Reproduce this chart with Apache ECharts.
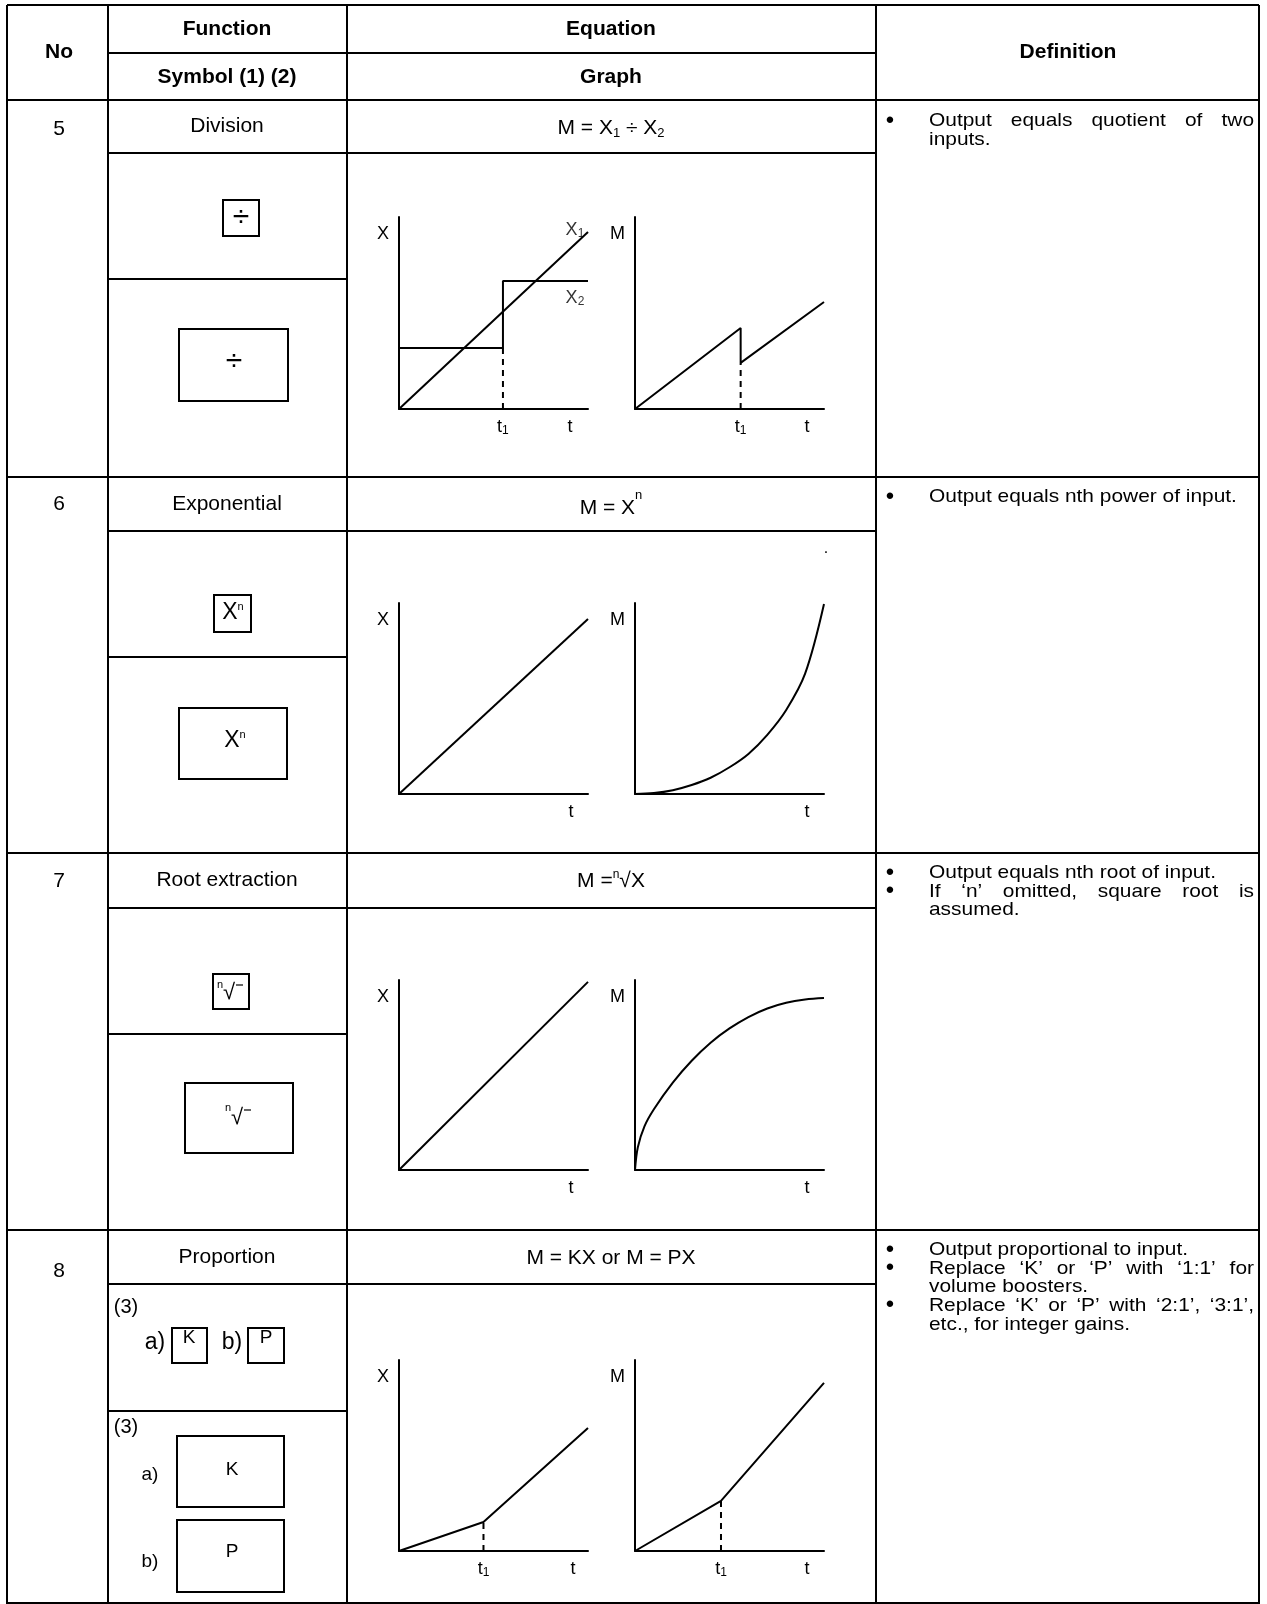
<!DOCTYPE html>
<html><head><meta charset="utf-8">
<script src="https://cdn.jsdelivr.net/npm/echarts@6/dist/echarts.min.js"></script>
<style>html,body{margin:0;padding:0;background:#fff}#c{width:1267px;height:1604px}</style>
</head><body><div id="c"></div>
<script>
// ---------- content ----------
const rowNumbers = ['5', '6', '7', '8'];
const functionNames = ['Division', 'Exponential', 'Root extraction', 'Proportion'];
const headerTop = ['No', 'Function', 'Equation', 'Definition'];
const headerSub = ['Symbol (1) (2)', 'Graph'];
const definitions = [
  [['Output equals quotient of two', 'inputs.']],
  [['Output equals nth power of input.']],
  [['Output equals nth root of input.'], ['If ‘n’ omitted, square root is', 'assumed.']],
  [['Output proportional to input.'], ['Replace ‘K’ or ‘P’ with ‘1:1’ for', 'volume boosters.'], ['Replace ‘K’ or ‘P’ with ‘2:1’, ‘3:1’,', 'etc., for integer gains.']]
];
// graph data: [t, value] on a 0..10 scale
const divX1 = [[0, 0], [10, 9.22]];
const divX2 = [[0, 3.18], [5.5, 3.18], [5.5, 6.67], [10, 6.67]];
const divX2Drop = [[5.5, 0], [5.5, 3.18]];
const divM = [[0, 0], [5.59, 4.22], [5.59, 2.4], [10, 5.57]];
const divMDrop = [[5.59, 0], [5.59, 2.4]];
const expX = [[0, 0], [10, 9.16]];
const expM = [[0, 0], [1, 0.05], [2, 0.2], [3, 0.47], [4, 0.85], [5, 1.4], [6, 2.1], [7, 3.1], [8, 4.4], [9, 6.3], [10, 9.95]];
const rootX = [[0, 0], [10, 9.9]];
const rootM = [[0, 0], [0.15, 1.2], [0.5, 2.3], [1, 3.2], [2, 4.6], [3, 5.75], [4, 6.7], [5, 7.45], [6, 8.05], [7, 8.5], [8, 8.8], [9, 8.97], [10, 9.05]];
const propX = [[0, 0], [4.47, 1.52], [10, 6.44]];
const propXDrop = [[4.47, 0], [4.47, 1.52]];
const propM = [[0, 0], [4.55, 2.62], [10, 8.8]];
const propMDrop = [[4.55, 0], [4.55, 2.62]];
// axis label positions
const divXTicks = [5.5, 9.05], divMTicks = [5.59, 9.1];
const plainTTick = [9.1];
const propXTicks = [4.47, 9.2], propMTicks = [4.55, 9.1];
const seriesNameLabels = [['X', 1, [9.31, 9.32]], ['X', 2, [9.31, 5.78]]];

// ---------- layout ----------
const FONT = '"Liberation Sans", Arial, sans-serif';
const BODY = 21;
const colX = [7, 108, 347, 876, 1259];
const rows = [
  {top: 100, fnBot: 153, symMid: 279, bot: 477, gTop: 217, gBot: 409},
  {top: 477, fnBot: 531, symMid: 657, bot: 853, gTop: 603, gBot: 794},
  {top: 853, fnBot: 908, symMid: 1034, bot: 1230, gTop: 980, gBot: 1170},
  {top: 1230, fnBot: 1284, symMid: 1411, bot: 1603, gTop: 1360, gBot: 1551}
];
const G = [];
function L(x1, y1, x2, y2, w) { G.push({type: 'line', shape: {x1, y1, x2, y2}, style: {stroke: '#000', lineWidth: w || 2}, silent: true}); }
function R(x, y, w, h) { G.push({type: 'rect', shape: {x, y, width: w, height: h}, style: {fill: 'none', stroke: '#000', lineWidth: 2}, silent: true}); }
function T(text, x, y, opt) {
  opt = opt || {};
  const el = {type: 'text', silent: true, style: Object.assign({
    text, x, y, fill: '#000', font: (opt.bold ? 'bold ' : '') + (opt.size || BODY) + 'px ' + FONT,
    align: opt.align || 'center', verticalAlign: 'middle', textAlign: opt.align || 'center', textVerticalAlign: 'middle'
  }, opt.rich ? {rich: opt.rich} : {})};
  if (opt.sx) { el.scaleX = opt.sx; el.originX = x; el.originY = y; }
  G.push(el);
}
// table lines
L(colX[0], 5, colX[4], 5);
L(colX[1], 53, colX[3], 53);
L(colX[0], 100, colX[4], 100);
colX.forEach(x => L(x, 5, x, 1604));
rows.forEach(r => {
  L(colX[1], r.fnBot, colX[3], r.fnBot);
  L(colX[1], r.symMid, colX[2], r.symMid);
  L(colX[0], r.bot, colX[4], r.bot);
});
// header
T(headerTop[0], 59, 52, {bold: true});
T(headerTop[1], 227, 29, {bold: true});
T(headerTop[2], 611, 29, {bold: true});
T(headerTop[3], 1068, 52, {bold: true});
T(headerSub[0], 227, 77, {bold: true});
T(headerSub[1], 611, 77, {bold: true});
// row numbers & function names
const numY = [129, 504, 881, 1271];
rows.forEach((r, i) => {
  T(rowNumbers[i], 59, numY[i]);
  T(functionNames[i], 227, (r.top + r.fnBot) / 2);
});
// equations
const eqRich = {
  t: {fontSize: BODY, fontFamily: FONT, lineHeight: 24},
  s: {fontSize: 13, fontFamily: FONT, verticalAlign: 'bottom', lineHeight: 14},
  p: {fontSize: 12, fontFamily: FONT, verticalAlign: 'top', lineHeight: 8}
};
const eqRichHigh = {
  t: {fontSize: BODY, fontFamily: FONT, lineHeight: 38},
  p: {fontSize: 13, fontFamily: FONT, verticalAlign: 'top', lineHeight: 10}
};
T('{t|M = X}{s|1}{t| ÷ X}{s|2}', 611, 128, {rich: eqRich});
T('{t|M = X}{p|n}', 611, 508, {rich: eqRichHigh});
T('{t|M =}{p|n}{t|√X}', 611, 881, {rich: eqRich});
T('{t|M = KX or M = PX}', 611, 1258, {rich: eqRich});

// definitions (justified lines), slightly wide lettering as in the source
const DEF = 19, DSX = 1.1;
const ctx = document.createElement('canvas').getContext('2d');
ctx.font = DEF + 'px ' + FONT;
const defX0 = 929, defX1 = 1254, bulletX = 890, lineH = 18.6;
const defTop = [121, 497, 873, 1250];
function justified(text, y) {
  const words = text.split(' ');
  const ws = words.map(w => ctx.measureText(w).width * DSX);
  const gap = (defX1 - defX0 - ws.reduce((a, b) => a + b, 0)) / (words.length - 1);
  let x = defX0;
  words.forEach((w, k) => { T(w, x, y, {align: 'left', size: DEF, sx: DSX}); x += ws[k] + gap; });
}
definitions.forEach((bullets, i) => {
  let y = defTop[i];
  bullets.forEach(lines => {
    T('•', bulletX, y, {size: 24});
    lines.forEach((ln, k) => {
      if (k < lines.length - 1) justified(ln, y); else T(ln, defX0, y, {align: 'left', size: DEF, sx: DSX});
      y += lineH;
    });
  });
});

// symbols
const symRich = {t: {fontSize: 23, fontFamily: FONT, lineHeight: 24}, p: {fontSize: 11, fontFamily: FONT, verticalAlign: 'top', lineHeight: 10}};
// row 5 division
R(223, 200, 36, 36); T('÷', 241, 218, {size: 30});
R(179, 329, 109, 72); T('÷', 234, 362, {size: 30});
// row 6 exponential
R(214, 595, 37, 37); T('{t|X}{p|n}', 233, 613, {rich: symRich});
R(179, 708, 108, 71); T('{t|X}{p|n}', 235, 741, {rich: symRich});
// row 7 root
R(213, 974, 36, 35);
T('n', 220, 985, {size: 11}); T('√', 229, 993, {size: 22}); L(236, 985, 243, 985, 1.2);
R(185, 1083, 108, 70);
T('n', 228, 1108, {size: 11}); T('√', 237, 1118, {size: 22}); L(244, 1110, 251, 1110, 1.2);
// row 8 proportion
T('(3)', 126, 1307, {size: 20});
T('a)', 155, 1343, {size: 23}); R(172, 1328, 35, 35); T('K', 189, 1338, {size: 19});
T('b)', 232, 1343, {size: 23}); R(248, 1328, 36, 35); T('P', 266, 1338, {size: 19});
T('(3)', 126, 1427, {size: 20});
T('a)', 150, 1475, {size: 19}); R(177, 1436, 107, 71); T('K', 232, 1470, {size: 19});
T('b)', 150, 1562, {size: 19}); R(177, 1520, 107, 72); T('P', 232, 1552, {size: 19});
// stray dot in row 6
T('.', 826, 549, {size: 16});

// ---------- graphs ----------
const axRich = {a: {fontSize: 18, fontFamily: FONT, color: '#000', lineHeight: 20}, s: {fontSize: 12, fontFamily: FONT, color: '#000', verticalAlign: 'bottom', lineHeight: 13}};
const graphs = [
  {row: 0, side: 0, yName: 'X', ticks: divXTicks, t1: true, lines: [divX1, divX2], dashed: divX2Drop, names: true},
  {row: 0, side: 1, yName: 'M', ticks: divMTicks, t1: true, lines: [divM], dashed: divMDrop},
  {row: 1, side: 0, yName: 'X', ticks: plainTTick, lines: [expX]},
  {row: 1, side: 1, yName: 'M', ticks: plainTTick, lines: [expM], smooth: true},
  {row: 2, side: 0, yName: 'X', ticks: plainTTick, lines: [rootX]},
  {row: 2, side: 1, yName: 'M', ticks: plainTTick, lines: [rootM], smooth: true},
  {row: 3, side: 0, yName: 'X', ticks: propXTicks, t1: true, lines: [propX], dashed: propXDrop},
  {row: 3, side: 1, yName: 'M', ticks: propMTicks, t1: true, lines: [propM], dashed: propMDrop}
];
const grid = [], xAxis = [], yAxis = [], series = [];
graphs.forEach((g, i) => {
  const r = rows[g.row];
  grid.push({left: g.side ? 635 : 399, width: 189, top: r.gTop, height: r.gBot - r.gTop});
  xAxis.push({type: 'value', gridIndex: i, min: 0, max: 10,
    axisLine: {show: true, onZero: false, lineStyle: {color: '#000', width: 2}},
    axisTick: {show: false}, splitLine: {show: false},
    axisLabel: {show: true, customValues: g.ticks, margin: 8, rich: axRich,
      formatter: v => (g.t1 && v === g.ticks[0]) ? '{a|t}{s|1}' : '{a|t}'}});
  yAxis.push({type: 'value', gridIndex: i, min: 0, max: 10,
    axisLine: {show: true, onZero: false, lineStyle: {color: '#000', width: 2}},
    axisTick: {show: false}, splitLine: {show: false},
    axisLabel: {show: true, customValues: [9.1], margin: 10, color: '#000', fontSize: 18, fontFamily: FONT, formatter: () => g.yName}});
  g.lines.forEach(d => series.push({type: 'line', xAxisIndex: i, yAxisIndex: i, data: d, symbol: 'none',
    smooth: g.smooth ? 0.35 : false, lineStyle: {color: '#000', width: 2}, animation: false}));
  if (g.dashed) series.push({type: 'line', xAxisIndex: i, yAxisIndex: i, data: g.dashed, symbol: 'none',
    lineStyle: {color: '#000', width: 2, type: [6, 5]}, animation: false});
  if (g.names) series.push({type: 'scatter', xAxisIndex: i, yAxisIndex: i, symbolSize: 0, animation: false,
    data: seriesNameLabels.map(s => ({value: s[2], name: s[0] + '_' + s[1]})),
    label: {show: true, position: 'inside', rich: axRich,
      formatter: p => '{a|' + p.name.split('_')[0] + '}{s|' + p.name.split('_')[1] + '}'}});
});

const chart = echarts.init(document.getElementById('c'), null, {renderer: 'canvas'});
chart.setOption({animation: false, backgroundColor: '#fff', grid, xAxis, yAxis, series, graphic: {elements: G}});
</script></body></html>
